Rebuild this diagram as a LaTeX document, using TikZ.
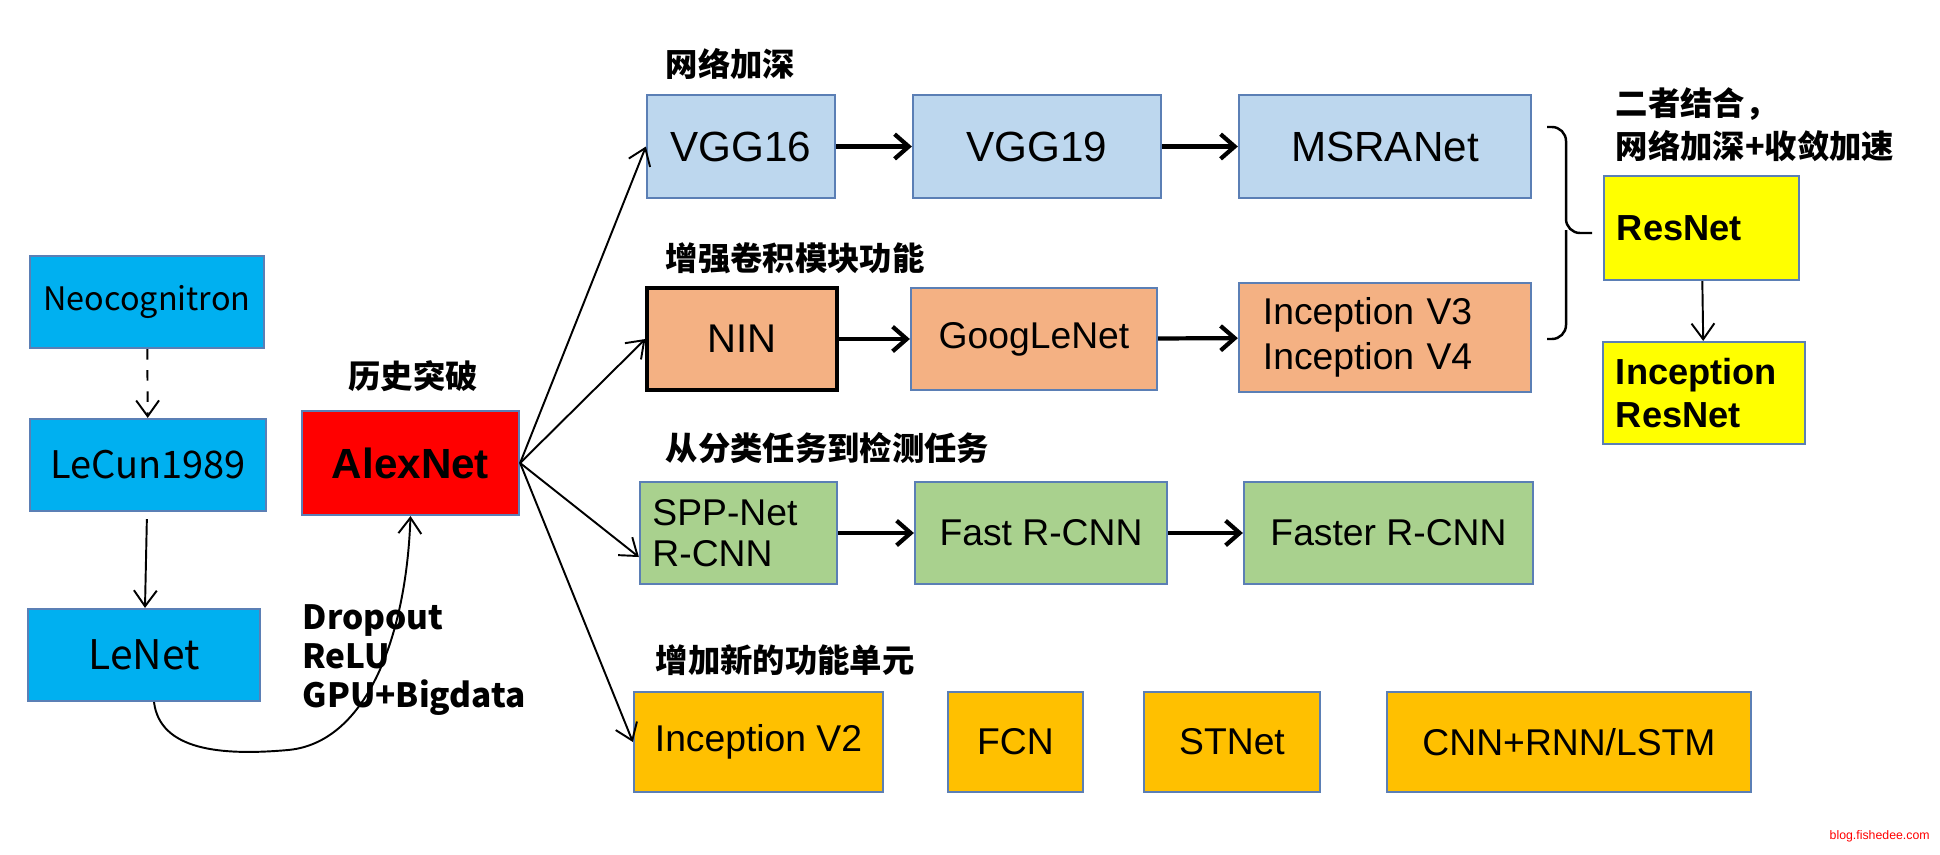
\documentclass[tikz,border=0pt]{standalone}
\usepackage{fontspec}
\setmainfont{Liberation Sans}
\newfontfamily\cjk{Noto Sans CJK SC}
\usetikzlibrary{arrows.meta}
\definecolor{cyanbox}{HTML}{00B0F0}
\definecolor{redbox}{HTML}{FF0000}
\definecolor{lbluebox}{HTML}{BDD7EE}
\definecolor{orangebox}{HTML}{F4B183}
\definecolor{greenbox}{HTML}{A9D18E}
\definecolor{yellowbox}{HTML}{FFFF00}
\definecolor{goldbox}{HTML}{FFC000}
\definecolor{edgec}{HTML}{5B7FB5}
\begin{document}
\begin{tikzpicture}[x=0.01cm,y=-0.01cm,
  box/.style={draw=edgec, line width=0.6pt, inner sep=0pt, text=black, font=\fontsize{10.6}{12.8}\selectfont},
  sz/.style 2 args={minimum width=#1, minimum height=#2},
  cjklabel/.style={anchor=west, inner sep=0pt, font=\cjk\bfseries\fontsize{9.2}{11}\selectfont},
  thickarrow/.style={line width=1.2pt, -{Straight Barb[length=4pt,width=7pt]}},
  thinarrow/.style={line width=0.55pt, -{Straight Barb[length=4.5pt,width=6.5pt]}}
]
\useasboundingbox (0,0) rectangle (1940,854);
% left column
\node[box, fill=cyanbox, sz={2.34cm}{0.92cm}, font=\cjk\fontsize{9.2}{12}\selectfont] (neo) at (147,302) {Neocognitron};
\node[box, fill=cyanbox, sz={2.36cm}{0.92cm}, font=\cjk\fontsize{10.8}{12}\selectfont] (lecun) at (148,465) {LeCun1989};
\node[box, fill=cyanbox, sz={2.32cm}{0.92cm}, font=\cjk\fontsize{11.6}{12}\selectfont] (lenet) at (144,655) {LeNet};
\node[box, fill=redbox, sz={2.17cm}{1.04cm}, font=\bfseries\fontsize{12}{14}\selectfont] (alex) at (410.5,463) {AlexNet};
\node[inner sep=0pt, font=\cjk\bfseries\fontsize{9.2}{11}\selectfont] (lsh) at (413,376) {历史突破};
\node[anchor=west, inner sep=0pt, align=left, font=\cjk\bfseries\fontsize{9.5}{11.2}\selectfont] (tricks) at (302,660) {Dropout\\ReLU\\GPU+Bigdata};
% row 1
\node[cjklabel] (l1) at (665,64) {网络加深};
\node[box, fill=lbluebox, sz={1.88cm}{1.03cm}, font=\fontsize{12}{14}\selectfont] (vgg16) at (741,146.5) {VGG16};
\node[box, fill=lbluebox, sz={2.48cm}{1.03cm}, font=\fontsize{12}{14}\selectfont] (vgg19) at (1037,146.5) {VGG19};
\node[box, fill=lbluebox, sz={2.92cm}{1.03cm}, font=\fontsize{12}{14}\selectfont] (msra) at (1385,146.5) {MSRANet};
% row 2
\node[cjklabel] (l2) at (665,258) {增强卷积模块功能};
\node[box, draw=black, line width=0.9pt, fill=orangebox, sz={1.90cm}{1.02cm}, font=\fontsize{11.4}{13}\selectfont] (nin) at (742,339) {NIN};
\node[box, fill=orangebox, sz={2.46cm}{1.02cm}] (goog) at (1034,339) {GoogLeNet};
\node[box, fill=orangebox, sz={2.92cm}{1.09cm}, align=left, text width=2.44cm, inner xsep=0.24cm, font=\fontsize{10.6}{12.8}\selectfont] (incv34) at (1385,337.5) {Inception V3\\Inception V4};
% right
\node[anchor=west, inner sep=0pt, align=left, font=\cjk\bfseries\fontsize{9.2}{12.3}\selectfont] (l5) at (1615,124.5) {二者结合，\\网络加深+收敛加速};
\node[box, fill=yellowbox, sz={1.95cm}{1.04cm}, align=left, text width=1.69cm, inner xsep=0.13cm, font=\bfseries\fontsize{10.3}{12.3}\selectfont] (resnet) at (1701.5,228) {ResNet};
\node[box, fill=yellowbox, sz={2.02cm}{1.02cm}, align=left, text width=1.76cm, inner xsep=0.13cm, font=\bfseries\fontsize{10.3}{12.3}\selectfont] (incres) at (1704,393) {Inception\\ResNet};
% row 3
\node[cjklabel] (l3) at (665,448) {从分类任务到检测任务};
\node[box, fill=greenbox, sz={1.97cm}{1.02cm}, align=left, text width=1.72cm, inner xsep=0.125cm, font=\fontsize{10.6}{11.7}\selectfont] (spp) at (738.5,533) {SPP-Net\\R-CNN};
\node[box, fill=greenbox, sz={2.52cm}{1.02cm}] (fast) at (1041,533) {Fast R-CNN};
\node[box, fill=greenbox, sz={2.89cm}{1.02cm}] (faster) at (1388.5,533) {Faster R-CNN};
% row 4
\node[cjklabel] (l4) at (655,660) {增加新的功能单元};
\node[box, fill=goldbox, sz={2.49cm}{1.00cm}] (incv2) at (758.5,742) {Inception V2};
\node[box, fill=goldbox, sz={1.35cm}{1.00cm}] (fcn) at (1015.5,742) {FCN};
\node[box, fill=goldbox, sz={1.76cm}{1.00cm}] (stnet) at (1232,742) {STNet};
\node[box, fill=goldbox, sz={3.64cm}{1.00cm}] (cnnrnn) at (1569,742) {CNN+RNN/LSTM};
% watermark
\node[anchor=west, inner sep=0pt, text=red, font=\fontsize{3.5}{4}\selectfont] (wm) at (1829,836) {blog.fishedee.com};
% connectors
\draw[thinarrow, dashed] (neo) -- (lecun);
\draw[thinarrow, shorten <=2pt] (lecun) -- (lenet);
\draw[thinarrow] ([xshift=0.1cm]lenet.south) .. controls (160,750) and (220,756) .. (288,750) .. controls (365,743) and (406,640) .. (alex.south);
\draw[thinarrow] (alex.east) -- (vgg16.west);
\draw[thinarrow] (alex.east) -- (nin.west);
\draw[thinarrow] (alex.east) -- ([yshift=-0.24cm]spp.west);
\draw[thinarrow] (alex.east) -- (incv2.west);
\draw[thickarrow] (vgg16) -- (vgg19);
\draw[thickarrow] (vgg19) -- (msra);
\draw[thickarrow] (nin) -- (goog);
\draw[thickarrow] (goog) -- (incv34);
\draw[thickarrow] (spp) -- (fast);
\draw[thickarrow] (fast) -- (faster);
\draw[thinarrow] (resnet) -- (incres);
% brace
\draw[line width=0.7pt, rounded corners=4pt] (1547,127) -- (1566,127) -- (1566,233) -- (1592,233);
\draw[line width=0.7pt, rounded corners=4pt] (1566,230) -- (1566,339) -- (1547,339);
\end{tikzpicture}
\end{document}
